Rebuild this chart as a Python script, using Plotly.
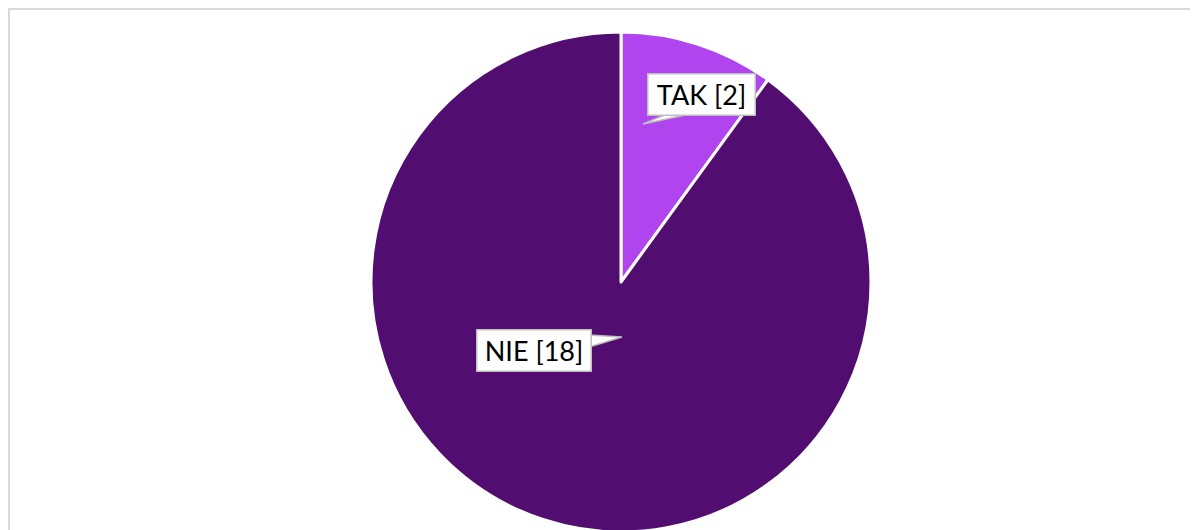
import plotly.graph_objects as go

labels = ["TAK", "NIE"]
values = [2, 18]
colors = ["#B044EE", "#510D70"]
label_texts = ["TAK [2]", "NIE [18]"]

W, H = 1198, 530
OFF = 8  # page body margin

def px(x):
    return (x - OFF) / W

def py(y):
    return 1 - (y - OFF) / H

cx, cy, r = 621, 282, 250

fig = go.Figure(go.Pie(
    labels=labels,
    values=values,
    marker=dict(colors=colors, line=dict(color="white", width=3)),
    sort=False,
    direction="clockwise",
    rotation=0,
    textinfo="none",
    hoverinfo="label+value",
    domain=dict(x=[px(cx - r), px(cx + r)], y=[py(cy + r), py(cy - r)]),
    showlegend=False,
))

callouts = [
    dict(text=label_texts[0], cx=701, cy=95, w=98, tail=[(667, 114), (643, 124), (690, 114)]),
    dict(text=label_texts[1], cx=533.5, cy=350, w=105, tail=[(589, 335), (622, 337), (589, 347)]),
]

shapes = [
    dict(type="rect", xref="paper", yref="paper",
         x0=px(9), x1=px(1230), y0=py(600), y1=py(9),
         line=dict(color="#D9D9D9", width=2), layer="below"),
]
annotations = []
for c in callouts:
    pts = c["tail"]
    path = "M {} {} L {} {} L {} {} Z".format(
        px(pts[0][0]), py(pts[0][1]), px(pts[1][0]), py(pts[1][1]), px(pts[2][0]), py(pts[2][1]))
    shapes.append(dict(type="path", xref="paper", yref="paper", path=path,
                       fillcolor="white", line=dict(color="#BFBFBF", width=1.5), layer="above"))
    annotations.append(dict(
        text=c["text"], x=px(c["cx"]), y=py(c["cy"]), xref="paper", yref="paper",
        showarrow=False, xanchor="center", yanchor="middle", align="center",
        width=c["w"], height=32,
        font=dict(family="Lato", size=27, color="black"),
        bgcolor="white", bordercolor="#BFBFBF", borderwidth=1.5, borderpad=4,
    ))

fig.update_layout(
    width=W, height=H,
    margin=dict(l=0, r=0, t=0, b=0),
    paper_bgcolor="white",
    plot_bgcolor="white",
    shapes=shapes,
    annotations=annotations,
)

fig.write_html("out.html")
